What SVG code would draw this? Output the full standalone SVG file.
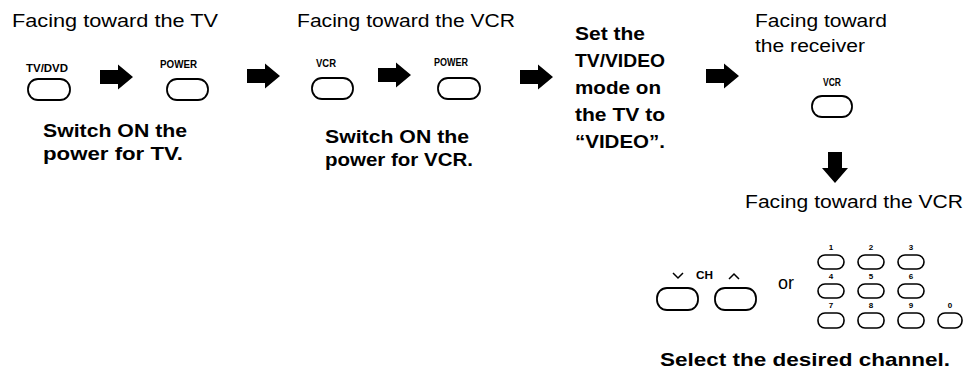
<svg xmlns="http://www.w3.org/2000/svg" width="969" height="370" viewBox="0 0 969 370">
<style>
.t{font-family:"Liberation Sans",Arial,sans-serif;font-size:17.5px;fill:#000}
.b{font-family:"Liberation Sans",Arial,sans-serif;font-size:18.5px;font-weight:bold;fill:#000}
.l{font-family:"Liberation Sans",Arial,sans-serif;font-size:10.5px;font-weight:bold;fill:#000}
.n{font-family:"Liberation Sans",Arial,sans-serif;font-size:8px;font-weight:bold;fill:#000;text-anchor:middle}
.btn{fill:#fff;stroke:#000;stroke-width:1.8}
.nb{fill:#fff;stroke:#000;stroke-width:1.6}
.chev{fill:none;stroke:#000;stroke-width:1.5}
</style>
<defs>
<path id="rarrow" d="M0,-7 H18 V-12.5 L33,0 L18,12.5 V7 H0 Z" fill="#000"/>
</defs>
<g id="caption-tv"><text class="t" x="12" y="27" textLength="206" lengthAdjust="spacingAndGlyphs">Facing toward the TV</text></g>
<g id="btn-tvdvd"><text class="l" x="26" y="72" textLength="42" lengthAdjust="spacingAndGlyphs">TV/DVD</text><rect class="btn" x="28" y="79" width="42" height="21" rx="10"/></g>
<g id="btn-power-tv"><text class="l" x="160" y="68" textLength="37" lengthAdjust="spacingAndGlyphs">POWER</text><rect class="btn" x="167" y="79" width="41" height="21" rx="10"/></g>
<g id="note-tv"><text class="b" x="43" y="137" textLength="144" lengthAdjust="spacingAndGlyphs">Switch ON the</text><text class="b" x="43" y="160" textLength="140" lengthAdjust="spacingAndGlyphs">power for TV.</text></g>
<g id="caption-vcr"><text class="t" x="297" y="27" textLength="218" lengthAdjust="spacingAndGlyphs">Facing toward the VCR</text></g>
<g id="btn-vcr"><text class="l" x="316" y="67" textLength="20" lengthAdjust="spacingAndGlyphs">VCR</text><rect class="btn" x="312" y="78" width="41" height="21" rx="10"/></g>
<g id="btn-power-vcr"><text class="l" x="434" y="66" textLength="34" lengthAdjust="spacingAndGlyphs">POWER</text><rect class="btn" x="438" y="78" width="42" height="21" rx="10"/></g>
<g id="note-vcr"><text class="b" x="325" y="143" textLength="144" lengthAdjust="spacingAndGlyphs">Switch ON the</text><text class="b" x="325" y="166" textLength="148" lengthAdjust="spacingAndGlyphs">power for VCR.</text></g>
<g id="step-tvvideo">
<text class="b" x="575" y="40" textLength="70" lengthAdjust="spacingAndGlyphs">Set the</text>
<text class="b" x="575" y="67" textLength="90" lengthAdjust="spacingAndGlyphs">TV/VIDEO</text>
<text class="b" x="575" y="94" textLength="86" lengthAdjust="spacingAndGlyphs">mode on</text>
<text class="b" x="575" y="121" textLength="90" lengthAdjust="spacingAndGlyphs">the TV to</text>
<text class="b" x="575" y="148" textLength="90" lengthAdjust="spacingAndGlyphs">“VIDEO”.</text>
</g>
<g id="caption-receiver"><text class="t" x="755" y="27" textLength="132" lengthAdjust="spacingAndGlyphs">Facing toward</text><text class="t" x="755" y="52" textLength="110" lengthAdjust="spacingAndGlyphs">the receiver</text></g>
<g id="btn-vcr-receiver"><text class="l" x="823" y="86" textLength="18" lengthAdjust="spacingAndGlyphs">VCR</text><rect class="btn" x="812" y="96" width="40" height="21" rx="10"/></g>
<g id="caption-vcr2"><text class="t" x="745" y="208" textLength="218" lengthAdjust="spacingAndGlyphs">Facing toward the VCR</text></g>
<g id="btn-ch">
<polyline class="chev" points="673,273 678,278 683,273"/>
<text class="l" x="696" y="279" textLength="17" lengthAdjust="spacingAndGlyphs">CH</text>
<polyline class="chev" points="729,279 734,274 739,279"/>
<rect class="btn" x="657" y="288" width="41" height="22" rx="10"/>
<rect class="btn" x="715" y="288" width="41" height="22" rx="10"/>
</g>
<g id="or"><text class="t" x="778" y="289" textLength="16" lengthAdjust="spacingAndGlyphs">or</text></g>
<g id="btn-numbers">
<text class="n" x="831" y="250">1</text><text class="n" x="871" y="250">2</text><text class="n" x="911" y="250">3</text>
<rect class="nb" x="818" y="255" width="26" height="14" rx="7"/><rect class="nb" x="858" y="255" width="26" height="14" rx="7"/><rect class="nb" x="898" y="255" width="26" height="14" rx="7"/>
<text class="n" x="831" y="279">4</text><text class="n" x="871" y="279">5</text><text class="n" x="911" y="279">6</text>
<rect class="nb" x="818" y="284" width="26" height="14" rx="7"/><rect class="nb" x="858" y="284" width="26" height="14" rx="7"/><rect class="nb" x="898" y="284" width="26" height="14" rx="7"/>
<text class="n" x="831" y="308">7</text><text class="n" x="871" y="308">8</text><text class="n" x="911" y="308">9</text><text class="n" x="950" y="308">0</text>
<rect class="nb" x="818" y="313" width="26" height="15" rx="7"/><rect class="nb" x="858" y="313" width="26" height="15" rx="7"/><rect class="nb" x="898" y="313" width="26" height="15" rx="7"/><rect class="nb" x="938" y="313" width="24" height="15" rx="7"/>
</g>
<g id="note-channel"><text class="b" x="660" y="366" textLength="290" lengthAdjust="spacingAndGlyphs">Select the desired channel.</text></g>
<g id="connectors">
<use href="#rarrow" x="100" y="77"/>
<use href="#rarrow" x="247" y="76"/>
<use href="#rarrow" x="378" y="75"/>
<use href="#rarrow" x="520" y="77"/>
<use href="#rarrow" x="706" y="76"/>
<path d="M828,152 H842 V168 H848 L835,183 L822,168 H828 Z" fill="#000"/>
</g>
</svg>
